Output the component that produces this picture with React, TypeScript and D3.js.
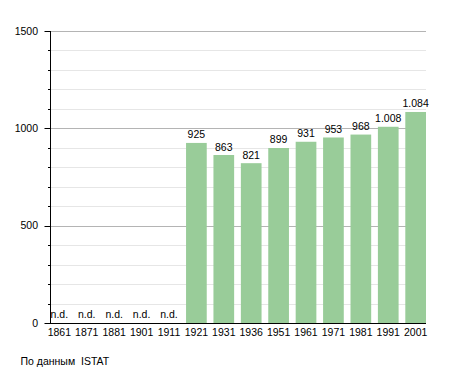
import React from 'react';
import * as d3 from 'd3';

// Population by census year (n.d. = no data)
const years = ['1861', '1871', '1881', '1901', '1911', '1921', '1931', '1936', '1951', '1961', '1971', '1981', '1991', '2001'];
const population: (number | null)[] = [null, null, null, null, null, 925, 863, 821, 899, 931, 953, 968, 1008, 1084];
const valueLabels = ['n.d.', 'n.d.', 'n.d.', 'n.d.', 'n.d.', '925', '863', '821', '899', '931', '953', '968', '1.008', '1.084'];
const majorTicks = [0, 500, 1000, 1500];
const sourceNote = 'По данным  ISTAT';

const WIDTH = 455;
const HEIGHT = 373;
const FONT = 'Liberation Sans, Arial, sans-serif';

export default function App() {
  const left = 50.5;
  const right = 426;
  const top = 31;
  const bottom = 323;

  const x = d3.scaleBand<string>()
    .domain(years)
    .range([49, 426])
    .paddingInner(0.245)
    .paddingOuter(0)
    .align(0);

  const y = d3.scaleLinear().domain([0, 1500]).range([bottom, top]);
  const minorTicks = d3.range(0, 1501, 100).filter(v => !majorTicks.includes(v));

  return (
    <svg
      width={WIDTH}
      height={HEIGHT}
      style={{ position: 'absolute', left: 0, top: 0, background: '#fff' }}
      fontFamily={FONT}
    >
      {/* minor grid */}
      {minorTicks.map(v => (
        <line key={'mg' + v} x1={left} x2={right} y1={Math.round(y(v)) + 0.5} y2={Math.round(y(v)) + 0.5} stroke="#e6e6e6" />
      ))}
      {/* major grid */}
      {majorTicks.filter(v => v > 0).map(v => (
        <line key={'Mg' + v} x1={left} x2={right} y1={Math.round(y(v)) + 0.5} y2={Math.round(y(v)) + 0.5} stroke="#b4b4b4" />
      ))}

      {/* bars */}
      {years.map((yr, i) => {
        const v = population[i];
        if (v == null) return null;
        return (
          <rect key={yr} x={x(yr)} y={y(v)} width={x.bandwidth()} height={bottom - y(v)} fill="#99cc99" />
        );
      })}

      {/* value labels */}
      {years.map((yr, i) => {
        const v = population[i];
        const cx = (x(yr) ?? 0) + x.bandwidth() / 2;
        const ty = v == null ? bottom - 5 : y(v) - 4.5;
        return (
          <text key={'v' + yr} x={cx} y={ty} textAnchor="middle" fontSize={10.5} fill="#000">
            {valueLabels[i]}
          </text>
        );
      })}

      {/* y axis */}
      <line x1={left} x2={left} y1={top} y2={bottom} stroke="#000" />
      {majorTicks.map(v => (
        <g key={'yt' + v}>
          <line x1={left - 6} x2={left} y1={Math.round(y(v)) + 0.5} y2={Math.round(y(v)) + 0.5} stroke="#000" />
          <text x={38} y={y(v) + 3.7} textAnchor="end" fontSize={10.5} fill="#000">{v}</text>
        </g>
      ))}
      {minorTicks.map(v => (
        <line key={'ymt' + v} x1={left - 2.5} x2={left} y1={Math.round(y(v)) + 0.5} y2={Math.round(y(v)) + 0.5} stroke="#000" />
      ))}

      {/* x axis */}
      <line x1={left - 0.5} x2={right} y1={bottom + 0.5} y2={bottom + 0.5} stroke="#000" />
      {years.map(yr => (
        <text key={'xl' + yr} x={(x(yr) ?? 0) + x.bandwidth() / 2} y={336} textAnchor="middle" fontSize={10.5} fill="#000">
          {yr}
        </text>
      ))}

      <text x={20.5} y={365} fontSize={10.5} fill="#000" style={{ whiteSpace: 'pre' }}>{sourceNote}</text>
    </svg>
  );
}
